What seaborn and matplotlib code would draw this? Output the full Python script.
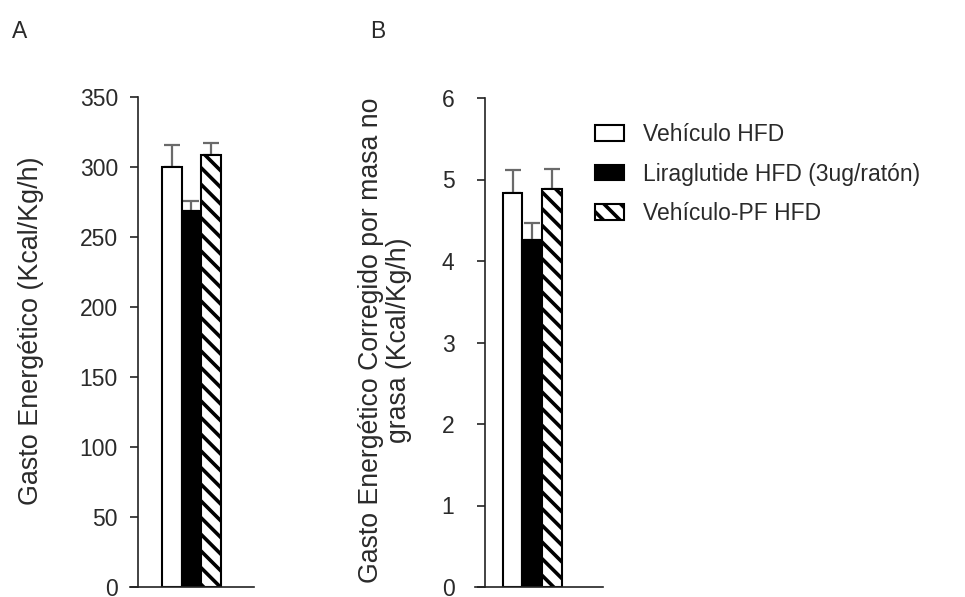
import matplotlib
matplotlib.use("Agg")
import matplotlib.pyplot as plt
from matplotlib.patches import Patch
import seaborn as sns
import pandas as pd

# Grupos experimentales
grupos = ["Vehículo HFD", "Liraglutide HFD (3ug/ratón)", "Vehículo-PF HFD"]

# Panel A: gasto energético (Kcal/Kg/h), media y error estándar
gasto_media = [300.0, 268.5, 308.5]
gasto_ee = [15.5, 7.5, 9.0]

# Panel B: gasto energético corregido por masa no grasa
gasto_corr_media = [4.83, 4.26, 4.88]
gasto_corr_ee = [0.29, 0.21, 0.245]

rellenos = ["white", "black", "white"]
tramas = ["", "", "\\\\"]

sns.set_style("white")
plt.rcParams["font.family"] = ["Liberation Sans", "DejaVu Sans"]
plt.rcParams["hatch.linewidth"] = 2.6
plt.rcParams["hatch.color"] = "black"

W, H = 965, 597
fig = plt.figure(figsize=(W / 100, H / 100), dpi=100)


def px_axes(x0, x1, y_top, y_bot):
    return fig.add_axes([x0 / W, 1 - y_bot / H, (x1 - x0) / W, (y_bot - y_top) / H])


def panel(ax, medias, errores, ylim, yticks, xlim, spine_pos, pad):
    df = pd.DataFrame({"x": [""] * len(grupos), "grupo": grupos, "valor": medias})
    sns.barplot(data=df, x="x", y="valor", hue="grupo", hue_order=grupos,
                palette=rellenos, edgecolor="black", linewidth=1.5,
                errorbar=None, width=0.8, gap=0, legend=False, ax=ax)
    barras = [p for p in ax.patches][:len(grupos)]
    for barra, trama in zip(barras, tramas):
        barra.set_hatch(trama)
        barra.set_edgecolor("black")
    centros = [b.get_x() + b.get_width() / 2 for b in barras]
    alturas = [b.get_height() for b in barras]
    ax.errorbar(centros, alturas, yerr=[[0] * len(errores), errores], fmt="none",
                ecolor="#6a6a6a", elinewidth=1.6, capsize=6, capthick=1.6, zorder=1)
    for b in barras:
        b.set_zorder(2)
    ax.set_ylim(*ylim)
    ax.set_yticks(yticks)
    ax.set_yticklabels([str(t) for t in yticks])
    ax.set_xlim(*xlim)
    ax.set_xticks([])
    ax.set_xlabel("")
    ax.set_ylabel("")
    for s in ["top", "right"]:
        ax.spines[s].set_visible(False)
    for s in ["left", "bottom"]:
        ax.spines[s].set_color("#222222")
        ax.spines[s].set_linewidth(1.2)
    ax.spines["left"].set_position(("axes", spine_pos))
    ax.spines["left"].set_bounds(ylim[0], ylim[1])
    ax.tick_params(axis="y", direction="out", length=6, width=1.2, color="#222222",
                   labelsize=16.5, labelcolor="#2a2a2a", pad=pad, left=True)
    ax.patch.set_alpha(0)


axA = px_axes(130, 254, 97, 587)
panel(axA, gasto_media, gasto_ee, (0, 350), list(range(0, 351, 50)),
      (-0.834, 0.848), 0.065, 8.5)

axB = px_axes(475, 603, 98, 587)
panel(axB, gasto_corr_media, gasto_corr_ee, (0, 6), list(range(0, 7)),
      (-0.776, 0.96), 0.078, 16)

# Etiquetas de los ejes y de los paneles
fig.text(31 / W, 1 - 331 / H, "Gasto Energético (Kcal/Kg/h)", rotation=90,
         ha="center", va="center", fontsize=19.4, color="#2a2a2a")
fig.text(385 / W, 1 - 340 / H, "Gasto Energético Corregido por masa no\ngrasa (Kcal/Kg/h)",
         rotation=90, ha="center", va="center", fontsize=19.2, color="#2a2a2a",
         multialignment="center", linespacing=1.12)
fig.text(12 / W, 1 - 31 / H, "A", ha="left", va="center", fontsize=16.5, color="#2a2a2a")
fig.text(370 / W, 1 - 31 / H, "B", ha="left", va="center", fontsize=16.5, color="#2a2a2a")

# Leyenda
manejadores = [Patch(facecolor=f, edgecolor="black", hatch=t, linewidth=1.5)
               for f, t in zip(rellenos, tramas)]
fig.legend(manejadores, grupos, loc="upper left",
           bbox_to_anchor=(595 / W, 1 - 123 / H), frameon=False, fontsize=16.5,
           handlelength=1.25, handleheight=0.65, handletextpad=0.85,
           labelspacing=0.72, borderaxespad=0, borderpad=0, labelcolor="#2a2a2a")

fig.savefig("out.png", dpi=100, facecolor="white")
